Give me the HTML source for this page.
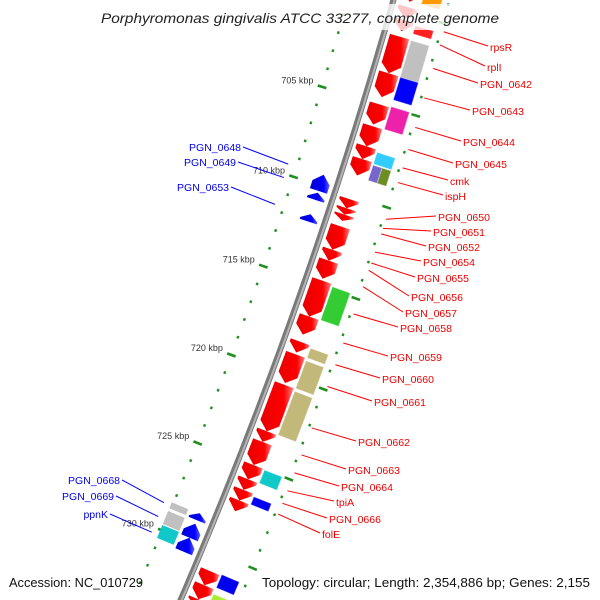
<!DOCTYPE html>
<html><head><meta charset="utf-8"><style>
html,body{margin:0;padding:0;background:#fff;width:600px;height:600px;overflow:hidden;}
svg{display:block;font-family:"Liberation Sans",sans-serif;overflow:hidden;}
</style></head><body>
<svg id="map" width="600" height="600" viewBox="0 0 600 600">
<defs>
<clipPath id="frame"><rect x="0" y="0" width="600" height="600"/></clipPath>
<linearGradient id="gRed" x1="0" y1="0" x2="1" y2="0"><stop offset="0" stop-color="#e80000"/><stop offset="0.7" stop-color="#ff0000"/><stop offset="1" stop-color="#ff8080"/></linearGradient>
<linearGradient id="gBlue" x1="0" y1="0" x2="1" y2="0"><stop offset="0" stop-color="#0000d0"/><stop offset="0.7" stop-color="#0000ff"/><stop offset="1" stop-color="#6060ff"/></linearGradient>
</defs>
<g clip-path="url(#frame)">
<g id="backbone-g"></g>
<g id="ticks"></g>
<g id="features"></g>
<g id="labels"></g>
</g>
<rect x="95" y="4" width="412" height="26" fill="#fff" fill-opacity="0.78"/>
<text x="300" y="23" text-anchor="middle" font-size="14" font-style="italic" fill="#222" textLength="398" lengthAdjust="spacingAndGlyphs">Porphyromonas gingivalis ATCC 33277, complete genome</text>
<text x="9" y="587" font-size="13" fill="#111" textLength="134" lengthAdjust="spacingAndGlyphs">Accession: NC_010729</text>
<text x="262" y="587" font-size="13" fill="#111" textLength="328" lengthAdjust="spacingAndGlyphs">Topology: circular; Length: 2,354,886 bp; Genes: 2,155</text>
</svg>
<script>
// ---- data (kbp) ----
const fwdStart = [698.0,699.7,700.4,701.3,703.3,705.0,706.2,707.3,708.0,710.2,710.7,711.05,711.7,713.0,713.6,714.7,716.7,718.1,718.8,720.5,723.1,723.7,725.0,725.8,726.4,727.0,731.0,731.8,732.6];
const fwdEnd   = [699.4,700.3,701.0,703.3,704.6,706.1,707.3,708.0,708.9,710.7,711.05,711.4,713.0,713.6,714.6,716.7,717.7,718.7,720.4,723.1,723.7,725.0,725.8,726.4,727.0,727.6,731.8,732.6,733.0];
const revStart = [709.4,710.4,711.6,728.4,729.0,729.8];
const revEnd   = [710.3,710.8,712.0,728.8,729.8,730.6];
const cogOutStart = [698.0,700.5,701.3,703.3,704.9,707.4,708.1,708.1,714.8,718.2,718.9,720.6,725.0,726.5,730.9,732.0];
const cogOutEnd   = [699.4,701.0,703.4,704.6,706.2,708.1,709.0,709.0,716.7,718.8,720.5,723.1,725.8,727.0,731.7,733.0];
const cogOutColor = ["#ff9900","#ff2020","#c0c0c0","#0000ff","#ee22aa","#33ccff","#7766cc","#6b8e23","#33cc33","#c2b87a","#c2b87a","#c2b87a","#10c8c8","#0000ee","#0000ee","#aaee33"];
const cogOutHalf  = [0,0,0,0,0,0,1,2,0,0,0,0,0,0,0,0];
const cogInStart = [728.4,728.9,729.7];
const cogInEnd   = [728.8,729.7,730.5];
const cogInColor = ["#c0c0c0","#c0c0c0","#10c8c8"];
const tickFrom = 698, tickTo = 734;
const tickLabelKbp = [705,710,715,720,725,730];
const rightLabels = ["rpsR","rplI","PGN_0642","PGN_0643","PGN_0644","PGN_0645","cmk","ispH","PGN_0650","PGN_0651","PGN_0652","PGN_0654","PGN_0655","PGN_0656","PGN_0657","PGN_0658","PGN_0659","PGN_0660","PGN_0661","PGN_0662","PGN_0663","PGN_0664","tpiA","PGN_0666","folE"];
const rightLabelKbp = [700.42,701.13,702.4,704.0,705.6,706.8,707.8,708.6,710.6,711.1,711.4,712.4,713.0,713.4,714.3,715.8,717.4,718.6,719.8,722.1,723.6,724.6,725.6,726.3,726.9];
const rightLabelX = [490,487,480,472,463,455,450,445,438,433,428,423,417,411,405,400,390,382,374,358,348,341,336,329,322];
const rightLabelY = [51,71,88,115,146,168,185,200,221,236,251,266,282,301,317,332,361,383,406,446,474,491,506,523,538];
const leftLabels = ["PGN_0648","PGN_0649","PGN_0653","PGN_0668","PGN_0669","ppnK"];
const leftLabelKbp = [709.45,710.2,711.7,728.6,729.4,730.3];
const leftLabelX = [241,236,229,120,114,108];
const leftLabelY = [151,166,191,484,500,518];

// ---- geometry ----
const CX=-4273, CY=-1318, R=4849;
function ang(k){return (17+(k-705)*0.225)*Math.PI/180;}
function pt(k,r){const a=ang(k);return [CX+r*Math.cos(a), CY+r*Math.sin(a)];}
const NS="http://www.w3.org/2000/svg";
function mk(tag,parent,attrs){const e=document.createElementNS(NS,tag);for(const k in attrs)e.setAttribute(k,attrs[k]);parent.appendChild(e);return e;}
function poly(pts){return pts.map(p=>p[0].toFixed(1)+","+p[1].toFixed(1)).join(" ");}
function band(s,e,r1,r2){const pts=[];const n=6;for(let i=0;i<=n;i++)pts.push(pt(s+(e-s)*i/n,r1));for(let i=n;i>=0;i--)pts.push(pt(s+(e-s)*i/n,r2));return pts;}
function arcPts(r,k0,k1){const pts=[];for(let k=k0;k<k1;k+=0.5)pts.push(pt(k,r));pts.push(pt(k1,r));return pts;}

// backbone (arc only over visible range)
const bb=document.getElementById('backbone-g');
const c1=mk('polyline',bb,{points:poly(arcPts(R,698.7,733.3)),fill:'none',stroke:'#7a7a7a','stroke-width':6});


const c2=mk('polyline',bb,{points:poly(arcPts(R+1,698.7,733.3)),fill:'none',stroke:'#b4b4b4','stroke-width':2});



// ticks
const tg=document.getElementById('ticks');
for(let k=tickFrom;k<=tickTo;k++){
  const major=(k%5===0);
  [[R-44],[R+54]].forEach(([rc],j)=>{
    const h=major?4.5:1.2;
    const a=pt(k,rc-h), b=pt(k,rc+h);
    if(a[1]>598||b[1]>598||a[1]<0)return;
    const l=mk('line',tg,{x1:a[0],y1:a[1],x2:b[0],y2:b[1],stroke:'#1f8f1f','stroke-width':2.6});
    
    
  });
}
tickLabelKbp.forEach(k=>{
  const p=pt(k,R-52);
  const t=mk('text',tg,{x:p[0]-1,y:p[1]-1,'text-anchor':'end','font-size':9,fill:'#333'});
  t.textContent=k+' kbp';
  
  
});

// features
const fg=document.getElementById('features');
function arrow(s,e,r1,r2,dir){
  const tip=Math.min(0.45,(e-s)*0.75), m=(r1+r2)/2;
  if(dir>0) return [pt(s,r1),pt(e-tip,r1),pt(e,m),pt(e-tip,r2),pt(s,r2)];
  return [pt(e,r1),pt(s+tip,r1),pt(s,m),pt(s+tip,r2),pt(e,r2)];
}
fwdStart.forEach((s,i)=>{
  const p=mk('polygon',fg,{points:poly(arrow(s,fwdEnd[i],R+6,R+26,1)),fill:'url(#gRed)'});
  
  
});
revStart.forEach((s,i)=>{
  const p=mk('polygon',fg,{points:poly(arrow(s,revEnd[i],R-25,R-7,-1)),fill:'url(#gBlue)'});
  
  
});
cogOutStart.forEach((s,i)=>{
  let r1=R+28,r2=R+47;
  if(cogOutHalf[i]===1)r2=R+37.5;
  if(cogOutHalf[i]===2)r1=R+37.5;
  const p=mk('polygon',fg,{points:poly(band(s+0.03,cogOutEnd[i]-0.03,r1,r2)),fill:cogOutColor[i],stroke:'rgba(255,255,255,0.35)','stroke-width':1});
  
  
});
cogInStart.forEach((s,i)=>{
  const p=mk('polygon',fg,{points:poly(band(s+0.03,cogInEnd[i]-0.03,R-46,R-28)),fill:cogInColor[i]});
  
  
});

// labels
const lg=document.getElementById('labels');
rightLabels.forEach((name,i)=>{
  const a=pt(rightLabelKbp[i],R+57);
  const l=mk('line',lg,{x1:a[0],y1:a[1],x2:rightLabelX[i]-2,y2:rightLabelY[i]-5,stroke:'#ff0000','stroke-width':1});
  
  
  const t=mk('text',lg,{x:rightLabelX[i],y:rightLabelY[i],'font-size':10.5,fill:'#ee0000'});
  t.textContent=name;
  
  
});
leftLabels.forEach((name,i)=>{
  const a=pt(leftLabelKbp[i],R-53);
  const l=mk('line',lg,{x1:a[0],y1:a[1],x2:leftLabelX[i]+2,y2:leftLabelY[i]-4,stroke:'#0000ff','stroke-width':1});
  
  
  const t=mk('text',lg,{x:leftLabelX[i],y:leftLabelY[i],'font-size':10.5,fill:'#0000ee','text-anchor':'end'});
  t.textContent=name;
  
  
});
</script>
</body></html>
